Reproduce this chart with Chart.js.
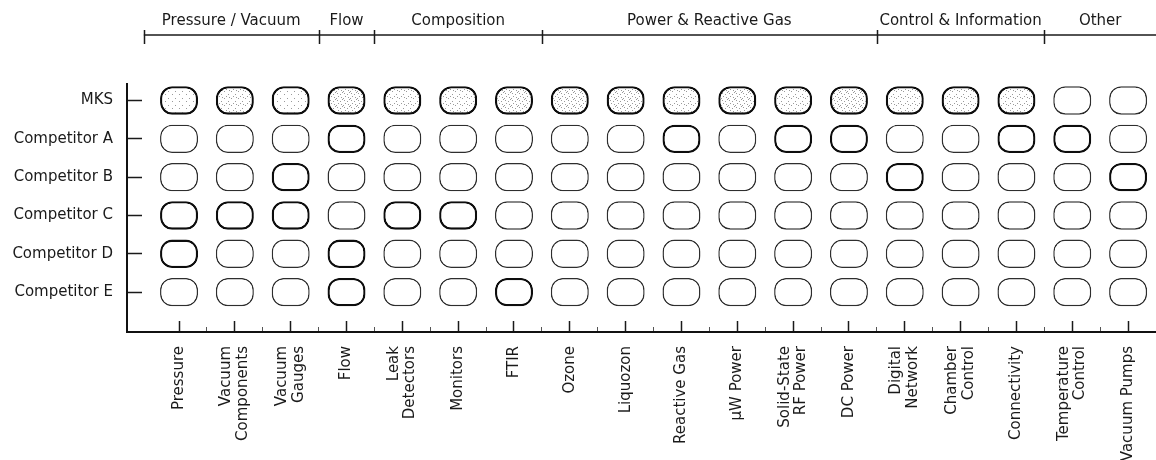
<!DOCTYPE html>
<html>
<head>
<meta charset="utf-8">
<script src="https://cdn.jsdelivr.net/npm/chart.js@4.4.1/dist/chart.umd.min.js"></script>
<style>
html,body{margin:0;padding:0;background:#fff;}
#wrap{width:1156px;height:460px;}
</style>
</head>
<body>
<div id="wrap"><canvas id="c" width="1156" height="460"></canvas></div>
<script>
// ---- data ----
const categories = [
  ['Pressure'], ['Vacuum', 'Components'], ['Vacuum', 'Gauges'], ['Flow'],
  ['Leak', 'Detectors'], ['Monitors'], ['FTIR'], ['Ozone'], ['Liquozon'],
  ['Reactive Gas'], ['\u00B5W Power'], ['Solid-State', 'RF Power'], ['DC Power'],
  ['Digital', 'Network'], ['Chamber', 'Control'], ['Connectivity'],
  ['Temperature', 'Control'], ['Vacuum Pumps']
];
const rows = ['MKS', 'Competitor A', 'Competitor B', 'Competitor C', 'Competitor D', 'Competitor E'];
const groupNames = ['Pressure / Vacuum', 'Flow', 'Composition', 'Power & Reactive Gas', 'Control & Information', 'Other'];
const groupEdges = [-0.63, 2.5, 3.5, 6.5, 12.5, 15.5, 17.5];

// 1 = offered (bold outline), 0 = not offered
const mks   = [1,1,1,1,1,1,1,1,1,1,1,1,1,1,1,1,0,0];
const compA = [0,0,0,1,0,0,0,0,0,1,0,1,1,0,0,1,1,0];
const compB = [0,0,1,0,0,0,0,0,0,0,0,0,0,1,0,0,0,1];
const compC = [1,1,1,0,1,1,0,0,0,0,0,0,0,0,0,0,0,0];
const compD = [1,0,0,1,0,0,0,0,0,0,0,0,0,0,0,0,0,0];
const compE = [0,0,0,1,0,0,1,0,0,0,0,0,0,0,0,0,0,0];
// MKS shading density (0 none .. 3 dense)
const mksShade = [1,2,1,3,2,2,3,3,3,2,3,2,3,2,2,2,0,0];

const matrix = [mks, compA, compB, compC, compD, compE];

// ---- styling helpers ----
function stipple(level) {
  const c = document.createElement('canvas');
  c.width = c.height = 7;
  const g = c.getContext('2d');
  g.fillStyle = '#ffffff';
  g.fillRect(0, 0, 7, 7);
  g.fillStyle = '#9a9a9a';
  const pts = [[0,0],[4,3],[2,5],[5,6],[1,2],[6,1],[3,1],[2,4]];
  const n = [0, 2, 4, 6][level];
  for (let k = 0; k < n; k++) g.fillRect(pts[k][0], pts[k][1], 1, 1);
  return g.createPattern(c, 'repeat');
}
const patterns = [null, stipple(1), stipple(2), stipple(3)];

const FONT = 'DejaVu Sans';
const TEXT = '#1a1a1a';
const PILL_HALF = 0.37;
const LABEL_LINE = 0.148; // half line-height in axis units for two-line labels

const datasets = rows.map((name, r) => ({
  label: name,
  data: categories.map((_, i) => ({ x: i, y: [r - PILL_HALF, r + PILL_HALF] })),
  backgroundColor: r === 0 ? mksShade.map(l => l ? patterns[l] : '#ffffff') : '#ffffff',
  borderColor: matrix[r].map(v => v ? '#0d0d0d' : '#2e2e2e'),
  borderWidth: matrix[r].map(v => v ? 2.3 : 1.45),
  borderRadius: 12,
  borderSkipped: false,
  grouped: false,
  barPercentage: 0.68,
  categoryPercentage: 1.0,
  xAxisID: 'x',
  yAxisID: 'y'
}));

const headerPlugin = {
  id: 'groupHeader',
  afterDraw(chart) {
    const xs = chart.scales.x;
    const ctx = chart.ctx;
    const lineY = 35;
    ctx.save();
    ctx.strokeStyle = TEXT;
    ctx.lineWidth = 1.6;
    ctx.beginPath();
    ctx.moveTo(xs.getPixelForValue(groupEdges[0]), lineY);
    ctx.lineTo(xs.getPixelForValue(groupEdges[groupEdges.length - 1]), lineY);
    ctx.stroke();
    ctx.lineWidth = 1.5;
    ctx.beginPath();
    groupEdges.slice(0, -1).forEach(v => {
      const px = Math.round(xs.getPixelForValue(v)) + 0.5;
      ctx.moveTo(px, 30);
      ctx.lineTo(px, 44);
    });
    ctx.stroke();
    ctx.fillStyle = TEXT;
    ctx.font = '15px "' + FONT + '"';
    ctx.textAlign = 'center';
    ctx.textBaseline = 'alphabetic';
    groupNames.forEach((n, i) => {
      const cx = (xs.getPixelForValue(groupEdges[i]) + xs.getPixelForValue(groupEdges[i + 1])) / 2;
      ctx.fillText(n, cx, 25);
    });
    ctx.restore();
  }
};

const X_MIN = -0.932, X_MAX = 17.5;

new Chart(document.getElementById('c'), {
  type: 'bar',
  data: { datasets },
  plugins: [headerPlugin],
  options: {
    responsive: false,
    animation: false,
    devicePixelRatio: 1,
    layout: { padding: { top: 84, left: 0, right: 0, bottom: 0 } },
    plugins: { legend: { display: false }, tooltip: { enabled: false } },
    scales: {
      x: {
        type: 'linear', position: 'bottom', weight: 0,
        min: X_MIN, max: X_MAX, bounds: 'data', offset: false,
        afterBuildTicks: s => { s.ticks = categories.map((_, i) => ({ value: i })); },
        afterFit: s => { s.height = 0; s.paddingLeft = 0; s.paddingRight = 0; },
        grid: { display: true, offset: false, drawOnChartArea: false, drawTicks: true,
                tickLength: -11, tickWidth: 1.5, tickColor: TEXT },
        border: { display: true, color: '#111111', width: 2 },
        ticks: { display: false }
      },
      xMinor: {
        type: 'linear', position: 'bottom', weight: 1,
        min: X_MIN, max: X_MAX, bounds: 'data', offset: false,
        afterBuildTicks: s => { s.ticks = categories.slice(1).map((_, i) => ({ value: i + 0.5 })); },
        afterFit: s => { s.height = 0; s.paddingLeft = 0; s.paddingRight = 0; },
        grid: { display: true, offset: false, drawOnChartArea: false, drawTicks: true,
                tickLength: -5, tickWidth: 1, tickColor: '#555555' },
        border: { display: false },
        ticks: { display: false }
      },
      xLabels: {
        type: 'linear', position: 'bottom', weight: 2,
        min: X_MIN, max: X_MAX, bounds: 'data', offset: false,
        afterBuildTicks: s => { s.ticks = categories.map((lines, i) => ({ value: i - (lines.length - 1) * LABEL_LINE })); },
        afterFit: s => { s.height = 128; s.paddingLeft = 0; s.paddingRight = 0; },
        grid: { display: false, drawTicks: false, offset: false },
        border: { display: false },
        ticks: {
          display: true, autoSkip: false, maxRotation: 90, minRotation: 90, padding: 14,
          font: { family: FONT, size: 15, lineHeight: 1.1 }, color: TEXT,
          callback: (v, i) => categories[i]
        }
      },
      y: {
        type: 'linear', reverse: true, min: -0.43, max: 6.04, bounds: 'data',
        afterBuildTicks: s => { s.ticks = rows.map((_, i) => ({ value: i })); },
        afterFit: s => { s.width = 127; s.paddingTop = 0; s.paddingBottom = 0; },
        grid: { display: true, offset: false, drawOnChartArea: false, drawTicks: true,
                tickLength: -15, tickWidth: 1.5, tickColor: TEXT },
        border: { display: true, color: '#111111', width: 2 },
        ticks: { padding: 29, font: { family: FONT, size: 15 }, color: TEXT,
                 callback: v => rows[v] }
      }
    }
  }
});
</script>
</body>
</html>
